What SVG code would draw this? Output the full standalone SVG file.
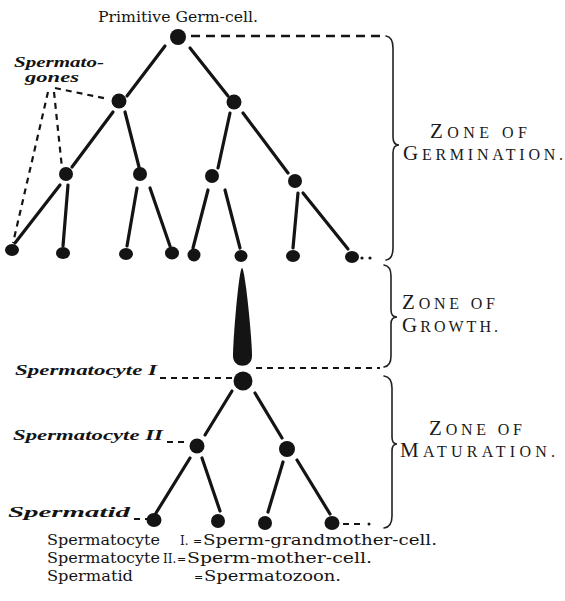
<svg xmlns="http://www.w3.org/2000/svg" width="565" height="601" viewBox="0 0 565 601">
<style>
  .bg{fill:#fff}
  .node{fill:#141414}
  .edge{stroke:#141414;stroke-width:3.2;stroke-linecap:round;fill:none}
  .dash{stroke:#141414;stroke-width:2.4;stroke-dasharray:9 6;fill:none}
  .dash2{stroke:#141414;stroke-width:2.2;stroke-dasharray:6 5;fill:none}
  .brace{stroke:#222;stroke-width:1.6;fill:none;stroke-linecap:round}
  .hand{font-family:"Liberation Serif","DejaVu Serif",serif;font-style:italic;font-weight:bold;font-size:15px;fill:#141414}
  .zone{font-family:"Liberation Serif",serif;fill:#1a1a1a}
  .zb{font-size:21px}
  .zs{font-size:16px}
  .leg{font-family:"DejaVu Serif","Liberation Serif",serif;font-size:14px;fill:#141414}
  .eq{font-size:11px}
  .rn{font-size:12px}
</style>
<rect class="bg" x="0" y="0" width="565" height="601"/>

<text class="leg" x="178" y="22" text-anchor="middle" textLength="160" lengthAdjust="spacingAndGlyphs">Primitive Germ-cell.</text>

<g id="connectors">
  <!-- germination tree -->
  <line class="edge" x1="165" y1="46" x2="127" y2="96"/>
  <line class="edge" x1="190" y1="48" x2="228" y2="96"/>
  <line class="edge" x1="113" y1="112" x2="72" y2="167"/>
  <line class="edge" x1="125" y1="112" x2="139" y2="167"/>
  <line class="edge" x1="230" y1="113" x2="218" y2="168"/>
  <line class="edge" x1="243" y1="113" x2="288" y2="173"/>
  <line class="edge" x1="60" y1="185" x2="15" y2="243"/>
  <line class="edge" x1="68" y1="185" x2="63" y2="246"/>
  <line class="edge" x1="137" y1="188" x2="127" y2="246"/>
  <line class="edge" x1="150" y1="188" x2="170" y2="246"/>
  <line class="edge" x1="208" y1="190" x2="193" y2="248"/>
  <line class="edge" x1="225" y1="190" x2="240" y2="248"/>
  <line class="edge" x1="298" y1="193" x2="293" y2="248"/>
  <line class="edge" x1="303" y1="193" x2="348" y2="249"/>
  <!-- maturation tree -->
  <line class="edge" x1="232" y1="391" x2="205" y2="435"/>
  <line class="edge" x1="255" y1="393" x2="282" y2="438"/>
  <line class="edge" x1="190" y1="458" x2="156" y2="513"/>
  <line class="edge" x1="202" y1="458" x2="220" y2="511"/>
  <line class="edge" x1="283" y1="462" x2="268" y2="512"/>
  <line class="edge" x1="297" y1="460" x2="330" y2="514"/>
  <!-- dashed guides -->
  <line class="dash" x1="191" y1="36" x2="380" y2="36"/>
  <line class="dash2" x1="256" y1="368" x2="380" y2="368"/>
  <line class="dash2" x1="160" y1="378" x2="233" y2="378"/>
  <line class="dash2" x1="167" y1="442" x2="189" y2="442"/>
  <line class="dash2" x1="134" y1="519" x2="147" y2="519"/>
  <line class="dash2" x1="343" y1="524" x2="365" y2="524"/>
  <circle class="node" cx="369" cy="524" r="1.5"/>
  <circle class="node" cx="362" cy="258" r="1.6"/>
  <circle class="node" cx="370" cy="258" r="1.6"/>
  <!-- spermatogones pointers -->
  <path class="dash2" d="M55,88 L108,99"/>
  <path class="dash2" d="M54,92 L62,168"/>
  <path class="dash2" d="M48,92 L13,243"/>
</g>

<g id="node-primitive"><circle class="node" cx="178" cy="37" r="8"/></g>
<g id="node-g2a"><circle class="node" cx="119" cy="101" r="7.5"/></g>
<g id="node-g2b"><circle class="node" cx="234" cy="102" r="7.5"/></g>
<g id="node-g3a"><circle class="node" cx="66" cy="174" r="7"/></g>
<g id="node-g3b"><circle class="node" cx="140" cy="174" r="7"/></g>
<g id="node-g3c"><circle class="node" cx="212" cy="176" r="7"/></g>
<g id="node-g3d"><circle class="node" cx="295" cy="181" r="7"/></g>
<g id="node-g4a"><ellipse class="node" cx="12" cy="250" rx="7" ry="6"/></g>
<g id="node-g4b"><ellipse class="node" cx="63" cy="253" rx="7" ry="6"/></g>
<g id="node-g4c"><ellipse class="node" cx="126" cy="254" rx="7" ry="6"/></g>
<g id="node-g4d"><ellipse class="node" cx="172" cy="253" rx="7" ry="6.5"/></g>
<g id="node-g4e"><ellipse class="node" cx="194" cy="255" rx="6.5" ry="6.5"/></g>
<g id="node-g4f"><ellipse class="node" cx="241" cy="256" rx="6.5" ry="6"/></g>
<g id="node-g4g"><ellipse class="node" cx="293" cy="256" rx="7" ry="6"/></g>
<g id="node-g4h"><ellipse class="node" cx="352" cy="257" rx="7" ry="6"/></g>

<g id="node-growth"><path class="node" d="M242,268 C245,268 252,338 252,356 C252,369 233,369 233,356 C233,338 239,268 242,268 Z"/></g>
<g id="node-spermatocyte1"><circle class="node" cx="243" cy="381" r="9.5"/></g>
<g id="node-m2a"><circle class="node" cx="197" cy="446" r="7.5"/></g>
<g id="node-m2b"><circle class="node" cx="287" cy="449" r="8"/></g>
<g id="node-m3a"><ellipse class="node" cx="154" cy="520" rx="7.5" ry="7"/></g>
<g id="node-m3b"><ellipse class="node" cx="218" cy="521" rx="7" ry="7"/></g>
<g id="node-m3c"><ellipse class="node" cx="265" cy="523" rx="7" ry="7"/></g>
<g id="node-m3d"><ellipse class="node" cx="332" cy="523" rx="7.5" ry="7"/></g>

<g id="label-spermatogones">
  <text class="hand" x="14" y="67" textLength="90" lengthAdjust="spacingAndGlyphs">Spermato-</text>
  <text class="hand" x="25" y="82" textLength="54" lengthAdjust="spacingAndGlyphs">gones</text>
</g>
<g id="label-spermatocyte1"><text class="hand" x="15" y="375" textLength="142" lengthAdjust="spacingAndGlyphs">Spermatocyte I</text></g>
<g id="label-spermatocyte2"><text class="hand" x="13" y="440" textLength="150" lengthAdjust="spacingAndGlyphs">Spermatocyte II</text></g>
<g id="label-spermatid"><text class="hand" x="8" y="517" textLength="122" lengthAdjust="spacingAndGlyphs">Spermatid</text></g>

<g id="zone-germination">
  <path class="brace" d="M386,36 Q393,37 393,48 L393,137 Q393,145 399,145 Q393,145 393,153 L393,248 Q393,259 386,260"/>
  <text class="zone" x="430" y="138" textLength="97" lengthAdjust="spacing"><tspan class="zb">Z</tspan><tspan class="zs">ONE OF</tspan></text>
  <text class="zone" x="403" y="160" textLength="160" lengthAdjust="spacing"><tspan class="zb">G</tspan><tspan class="zs">ERMINATION.</tspan></text>
</g>
<g id="zone-growth">
  <path class="brace" d="M384,265 Q391,266 391,276 L391,310 Q391,317 397,317 Q391,317 391,324 L391,356 Q391,366 384,367"/>
  <text class="zone" x="402" y="309" textLength="93" lengthAdjust="spacing"><tspan class="zb">Z</tspan><tspan class="zs">ONE OF</tspan></text>
  <text class="zone" x="402" y="332" textLength="96" lengthAdjust="spacing"><tspan class="zb">G</tspan><tspan class="zs">ROWTH.</tspan></text>
</g>
<g id="zone-maturation">
  <path class="brace" d="M384,376 Q392,377 392,388 L392,437 Q392,444 397,444 Q392,444 392,451 L392,516 Q392,527 384,528"/>
  <text class="zone" x="429" y="435" textLength="93" lengthAdjust="spacing"><tspan class="zb">Z</tspan><tspan class="zs">ONE OF</tspan></text>
  <text class="zone" x="400" y="457" textLength="155" lengthAdjust="spacing"><tspan class="zb">M</tspan><tspan class="zs">ATURATION.</tspan></text>
</g>

<g id="legend">
  <text class="leg" y="545"><tspan x="47" textLength="113" lengthAdjust="spacingAndGlyphs">Spermatocyte</tspan><tspan class="rn" x="180">I.</tspan><tspan class="eq" x="193">=</tspan><tspan x="203" textLength="234" lengthAdjust="spacingAndGlyphs">Sperm-grandmother-cell.</tspan></text>
  <text class="leg" y="563"><tspan x="47" textLength="113" lengthAdjust="spacingAndGlyphs">Spermatocyte</tspan><tspan class="rn" x="163">II.</tspan><tspan class="eq" x="177">=</tspan><tspan x="187" textLength="185" lengthAdjust="spacingAndGlyphs">Sperm-mother-cell.</tspan></text>
  <text class="leg" y="581"><tspan x="47" textLength="86" lengthAdjust="spacingAndGlyphs">Spermatid</tspan><tspan class="eq" x="194">=</tspan><tspan x="204" textLength="137" lengthAdjust="spacingAndGlyphs">Spermatozoon.</tspan></text>
</g>
</svg>
